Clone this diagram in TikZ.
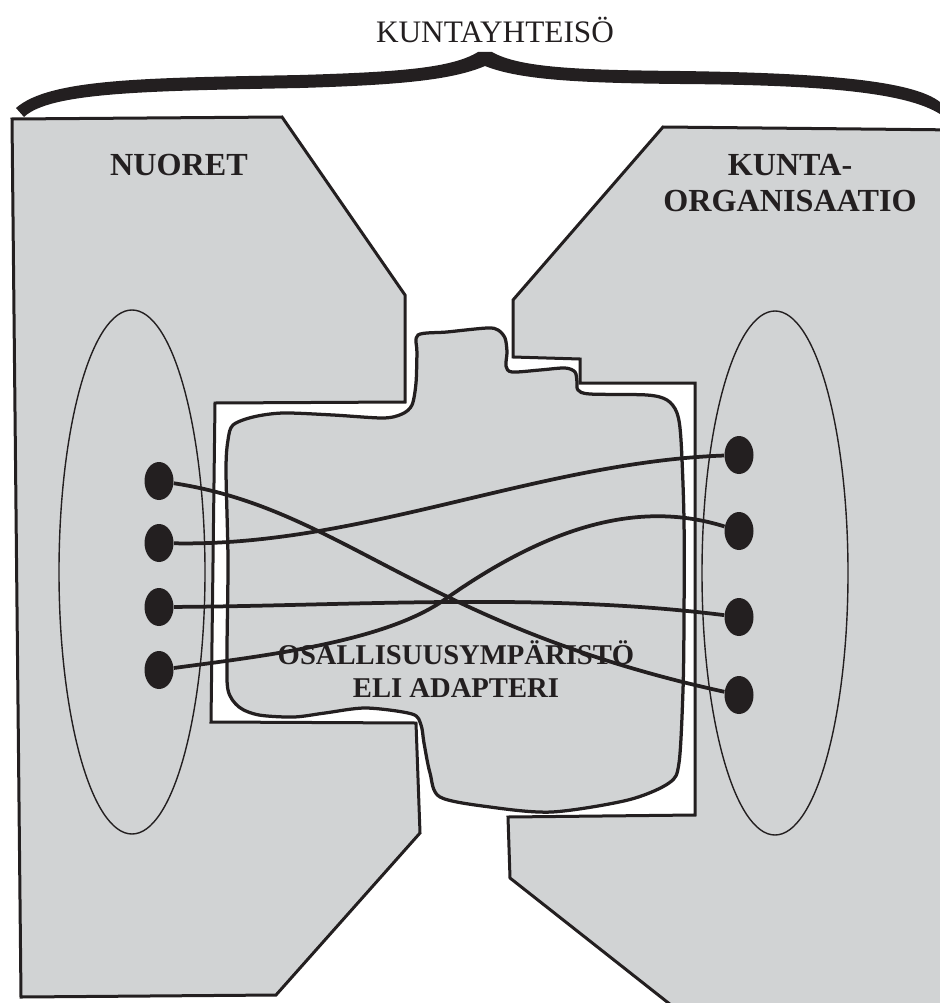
\documentclass[tikz,border=0pt]{standalone}
\usepackage{fontspec}
\setmainfont{Liberation Serif}
\usetikzlibrary{shapes.geometric}
\definecolor{panelGray}{RGB}{209,211,212}
\definecolor{inkBlack}{RGB}{35,31,32}
\tikzset{
  panel/.style={fill=panelGray, draw=inkBlack, line width=0.6mm, line join=miter},
  ring/.style={draw=inkBlack, ellipse, line width=0.28mm, minimum width=29.2mm, minimum height=104.8mm, inner sep=0pt},
  blackdot/.style={ellipse, fill=inkBlack, minimum width=5.8mm, minimum height=7.6mm, inner sep=0pt},
  wire/.style={draw=inkBlack, line width=0.75mm},
  grouplabel/.style={text=inkBlack, font=\fontsize{18.3}{21}\selectfont\bfseries, align=center}
}

\begin{document}
\begin{tikzpicture}[x=0.2mm, y=-0.2mm]
\useasboundingbox (0,0) rectangle (940,1003);

% brace over both sides
\fill[inkBlack] (16,108) .. controls (50,78) and (150,78) .. (300,75)
  .. controls (400,72) and (452,68) .. (478,52) -- (492,52)
  .. controls (520,68) and (580,70) .. (680,71)
  .. controls (820,73) and (912,80) .. (940,102) -- (940,114)
  .. controls (905,92) and (820,85) .. (680,84)
  .. controls (580,83) and (520,80) .. (485,66)
  .. controls (452,80) and (400,85) .. (300,88)
  .. controls (150,91) and (50,92) .. (24,117) -- cycle;

% the two sides
\draw[panel] (12,119) -- (282,117) -- (405,295) -- (405,402) -- (215,403) -- (211,722)
  -- (416,723) -- (420,833) -- (276,995) -- (21,997) -- cycle;
\draw[panel] (663,127) -- (960,130) -- (960,1020) -- (690,1020) -- (510,878) -- (508,817)
  -- (695,815) -- (695,383) -- (580,383) -- (580,359) -- (513,357) -- (513,300) -- cycle;

\node[ring] (youthRing) at (132,572) {};
\node[ring] (orgRing) at (775,573) {};

% adapter in the middle
\draw[panel, line width=0.65mm] plot[smooth cycle, tension=0.5] coordinates {
  (418,335) (447,332) (487,328) (498,330) (505,338) (507,352) (506,366) (512,372)
  (540,370) (565,368) (575,372) (577,382) (578,390) (590,394) (647,395) (667,400)
  (677,413) (681,440) (684,520) (684,620) (683,690) (679,763) (669,783) (628,800)
  (552,812) (490,807) (440,797) (430,773) (424,743) (421,725) (412,714) (366,708)
  (325,713) (294,717) (259,715) (239,707) (228,690) (227,650) (228,560) (226,470)
  (228,440) (233,425) (253,417) (283,413) (333,415) (383,418) (402,414) (412,405)
  (416,383) (417,353)};

\foreach \i/\y in {1/481, 2/543, 3/607, 4/670}
  \node[blackdot] (l\i) at (159,\y) {};
\foreach \i/\y in {1/455, 2/531, 3/617, 4/695}
  \node[blackdot] (r\i) at (739,\y) {};

\draw[wire] (l1) .. controls (343,509) and (420,625) .. (r4);
\draw[wire] (l2) .. controls (360,547) and (540,462) .. (r1);
\draw[wire] (l3) .. controls (350,606) and (540,592) .. (r3);
\draw[wire] (l4) .. controls (263,656) and (384,642) .. (444,600)
  .. controls (550,525) and (640,500) .. (r2);

\node[text=inkBlack, font=\fontsize{17.8}{20}\selectfont, anchor=base] (title) at (495,43) {KUNTAYHTEISÖ};
\node[grouplabel, anchor=base] (youthLabel) at (179,175) {NUORET};
\node[grouplabel] (orgLabel) at (790,183) {KUNTA-\\ORGANISAATIO};
\node[text=inkBlack, font=\fontsize{16.3}{18.7}\selectfont\bfseries, align=center] (adapterLabel)
  at (456,669) {OSALLISUUSYMPÄRISTÖ\\ELI ADAPTERI};
\end{tikzpicture}
\end{document}
